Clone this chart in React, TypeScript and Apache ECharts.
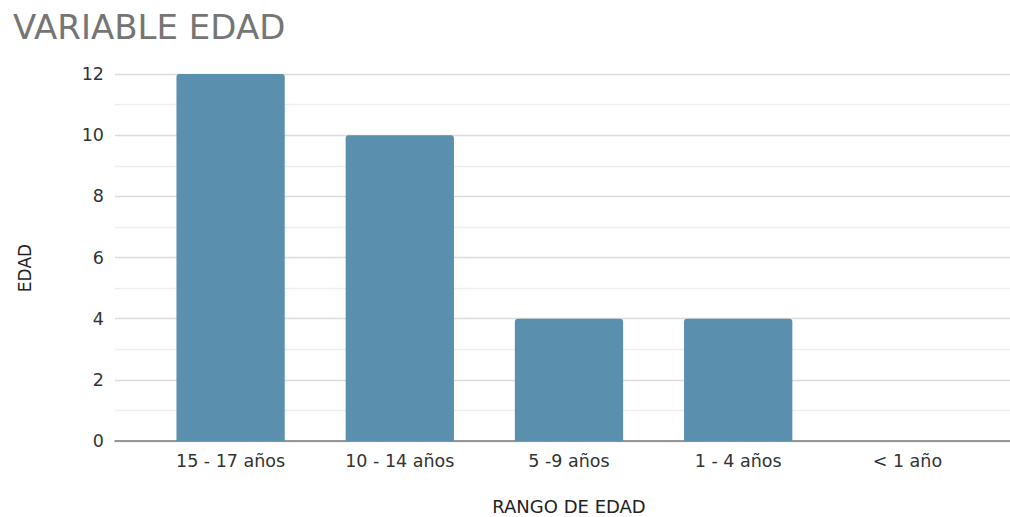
import React, { useEffect, useRef } from "react";
import * as echarts from "echarts";

const categories = ["15 - 17 años", "10 - 14 años", "5 -9 años", "1 - 4 años", "< 1 año"];
const values = [12, 10, 4, 4, 0];
const titleText = "VARIABLE EDAD";
const yName = "EDAD";
const xName = "RANGO DE EDAD";

export default function App() {
  const ref = useRef<HTMLDivElement>(null);
  useEffect(() => {
    if (!ref.current) return;
    const chart = echarts.init(ref.current, null, { renderer: "svg" });
    const font = "'DejaVu Sans', Verdana, sans-serif";
    chart.setOption({
      animation: false,
      backgroundColor: "#ffffff",
      textStyle: { fontFamily: font },
      title: {
        text: titleText,
        left: 8,
        top: 5,
        textStyle: { fontFamily: font, fontSize: 34, fontWeight: "normal", color: "#757575" },
      },
      grid: [
        { left: 115, right: 0, top: 74, bottom: 76 },
        { left: 146, right: 18, top: 74, bottom: 76 },
      ],
      xAxis: [
        {
          type: "value",
          gridIndex: 0,
          min: 0,
          max: 1,
          axisLine: { show: true, lineStyle: { color: "#7a7a7a", width: 1.5 } },
          axisTick: { show: false },
          axisLabel: { show: false },
          splitLine: { show: false },
        },
        {
          type: "category",
          gridIndex: 1,
          data: categories,
          axisLine: { show: false },
          axisTick: { show: false },
          axisLabel: { color: "#333333", fontSize: 17.5, margin: 11, fontFamily: font },
        },
      ],
      yAxis: [
        {
          type: "value",
          gridIndex: 0,
          min: 0,
          max: 12,
          interval: 2,
          axisLine: { show: false },
          axisTick: { show: false },
          axisLabel: { color: "#333333", fontSize: 17.5, margin: 11, fontFamily: font },
          splitLine: { show: true, lineStyle: { color: "#dcdcdc", width: 1.3 } },
          minorTick: { show: false, splitNumber: 2 },
          minorSplitLine: { show: true, lineStyle: { color: "#eeeeee", width: 1.3 } },
        },
        {
          type: "value",
          gridIndex: 1,
          min: 0,
          max: 12,
          show: false,
          splitLine: { show: false },
        },
      ],
      graphic: [
        {
          type: "text",
          x: 25,
          y: 268,
          rotation: Math.PI / 2,
          style: {
            text: yName,
            fontSize: 17,
            fontFamily: font,
            fill: "#222222",
            align: "center",
            verticalAlign: "middle",
          },
        },
        {
          type: "text",
          x: 569,
          y: 506,
          style: {
            text: xName,
            fontSize: 18,
            fontFamily: font,
            fill: "#222222",
            align: "center",
            verticalAlign: "middle",
          },
        },
      ],
      series: [
        {
          type: "bar",
          xAxisIndex: 1,
          yAxisIndex: 1,
          data: values,
          barCategoryGap: "36%",
          itemStyle: { color: "#5a8fae", borderRadius: [3, 3, 0, 0] },
          z: 3,
        },
      ],
    });
    return () => chart.dispose();
  }, []);
  return (
    <div
      ref={ref}
      style={{ position: "fixed", left: 0, top: 0, width: 1010, height: 517 }}
    />
  );
}
